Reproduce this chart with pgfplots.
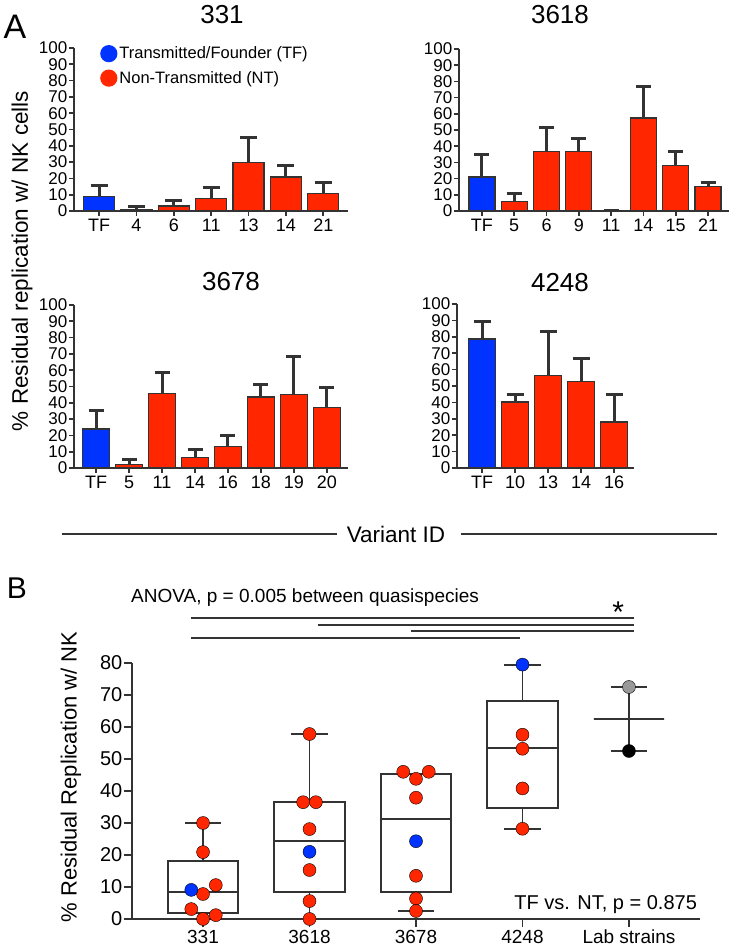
\documentclass[border=0pt]{standalone}
\usepackage{fontspec}
\setmainfont{Liberation Sans}
\usepackage{pgfplots}
\pgfplotsset{compat=1.18}
\usepgfplotslibrary{statistics}
\definecolor{tfblue}{RGB}{0,51,255}
\definecolor{ntred}{RGB}{255,38,0}
\definecolor{dark}{RGB}{51,51,51}
\newcommand\fs[1]{\fontsize{#1pt}{#1pt}\selectfont}
\pgfplotsset{
  panelA/.style={
    scale only axis,
    ymin=0, ymax=100,
    axis lines*=left,
    axis line style={draw=dark, line width=1.7pt},
    tick style={draw=dark, line width=1.7pt},
    major tick length=5pt,
    tick align=outside,
    ytick={0,10,...,100},
    xtick={0,1,...,10},
    /pgf/number format/assume math mode=true,
    yticklabel style={font=\fs{17}, inner sep=1.5pt},
    xticklabel style={font=\fs{18}, inner sep=3pt},
    clip=false,
  },
  bA/.style 2 args={ybar, bar shift=0pt, bar width=#1, draw=dark, line width=1.2pt,
    /pgfplots/error bars/y dir=plus, /pgfplots/error bars/y explicit,
    /pgfplots/error bars/error mark=|,
    /pgfplots/error bars/error bar style={line width=3pt, draw=dark},
    /pgfplots/error bars/error mark options={line width=3pt, draw=dark, mark size=#2}},
  ptR/.style={only marks, mark=*, mark size=6.5pt, mark options={fill=ntred, draw=none}},
  ptB/.style={only marks, mark=*, mark size=6.5pt, mark options={fill=tfblue, draw=none}},
  sig/.style={draw=dark, line width=1.8pt, no marks},
  bx/.style={draw=dark, line width=1.8pt,
    /pgfplots/boxplot/every whisker/.append style={draw=dark, line width=1.8pt},
    /pgfplots/boxplot/every median/.append style={draw=dark, line width=1.8pt},
    /pgfplots/boxplot/every box/.append style={draw=dark, line width=1.8pt}},
}
\begin{document}
\begin{tikzpicture}
\path[use as bounding box] (0,0) rectangle (733pt,950pt);

% ---------- Panel A: 331 ----------
\begin{axis}[panelA, at={(74pt,739pt)}, anchor=south west, width=274pt, height=163pt,
  xmin=-0.67, xmax=6.66, xticklabels={TF,4,6,11,13,14,21},
  legend style={at={(rel axis cs:0.095,1.02)}, anchor=north west, draw=none, fill=none,
    font=\fs{16.5}, row sep=7pt, inner sep=0pt, cells={anchor=west}}]
\addplot[fill=tfblue, bA={31pt}{8.5pt}, legend image code/.code={\fill[tfblue] (0pt,0pt) circle (8pt);}]
  coordinates {(0,9) +- (0,6.8)};
\addplot[fill=ntred, bA={31pt}{8.5pt}, legend image code/.code={\fill[ntred] (0pt,0pt) circle (8pt);}]
  coordinates {(1,1.0) +- (0,1.5) (2,3.1) +- (0,3.1) (3,7.7) +- (0,6.5) (4,29.8) +- (0,15) (5,20.8) +- (0,6.9) (6,10.6) +- (0,6.7)};
\legend{Transmitted/Founder (TF), Non-Transmitted (NT)}
\end{axis}

% ---------- Panel A: 3618 ----------
\begin{axis}[panelA, at={(459pt,739pt)}, anchor=south west, width=270pt, height=162pt,
  xmin=-0.71, xmax=7.65, xticklabels={TF,5,6,9,11,14,15,21}]
\addplot[fill=tfblue, bA={26pt}{7.5pt}] coordinates {(0,21) +- (0,13.8)};
\addplot[fill=ntred, bA={26pt}{7.5pt}]
  coordinates {(1,5.7) +- (0,4.8) (2,36.5) +- (0,15.3) (3,36.5) +- (0,8.4) (4,0.5) +- (0,0.1) (5,57.4) +- (0,19.3) (6,27.9) +- (0,8.8) (7,15.1) +- (0,2.7)};
\end{axis}

% ---------- Panel A: 3678 ----------
\begin{axis}[panelA, at={(74pt,482pt)}, anchor=south west, width=274pt, height=163pt,
  xmin=-0.67, xmax=7.64, xticklabels={TF,5,11,14,16,18,19,20}]
\addplot[fill=tfblue, bA={27pt}{7.5pt}] coordinates {(0,23.9) +- (0,11.4)};
\addplot[fill=ntred, bA={27pt}{7.5pt}]
  coordinates {(1,2) +- (0,3.1) (2,45.5) +- (0,13.1) (3,6.3) +- (0,4.9) (4,13.3) +- (0,6.9) (5,43.5) +- (0,7.7) (6,45.3) +- (0,23.1) (7,37.3) +- (0,11.9)};
\end{axis}

% ---------- Panel A: 4248 ----------
\begin{axis}[panelA, at={(457pt,482pt)}, anchor=south west, width=177pt, height=164pt,
  xmin=-0.76, xmax=4.6, xticklabels={TF,10,13,14,16}]
\addplot[fill=tfblue, bA={27pt}{8.5pt}] coordinates {(0,78.7) +- (0,10.5)};
\addplot[fill=ntred, bA={27pt}{8.5pt}]
  coordinates {(1,40.2) +- (0,4.8) (2,56.4) +- (0,26.6) (3,52.5) +- (0,14.2) (4,28) +- (0,17)};
\end{axis}

% ---------- Panel B ----------
\begin{axis}[scale only axis, at={(132pt,31pt)}, anchor=south west, width=568pt, height=256pt,
  xmin=-0.667, xmax=4.667, ymin=0, ymax=80,
  axis lines*=left, axis line style={draw=dark, line width=1.7pt},
  tick style={draw=dark, line width=1.7pt}, major tick length=8pt, tick align=outside,
  ytick={0,10,...,80}, xtick={0,1,2,3,4}, xticklabels={331,3618,3678,4248,Lab strains},
  /pgf/number format/assume math mode=true,
  yticklabel style={font=\fs{20}, inner sep=1.5pt},
  xticklabel style={font=\fs{19}, inner sep=3pt},
  boxplot/draw direction=y, clip=false]
\addplot[bx, boxplot prepared={lower whisker=0, lower quartile=1.9, median=8.4, upper quartile=18.1, upper whisker=30, draw position=0, box extend=0.66, whisker extend=0.34}] coordinates {};
\addplot[bx, boxplot prepared={lower whisker=0, lower quartile=8.4, median=24.5, upper quartile=36.5, upper whisker=57.8, draw position=1, box extend=0.66, whisker extend=0.34}] coordinates {};
\addplot[bx, boxplot prepared={lower whisker=2.5, lower quartile=8.5, median=31.3, upper quartile=45.2, upper whisker=45.2, draw position=2, box extend=0.66, whisker extend=0.34}] coordinates {};
\addplot[bx, boxplot prepared={lower whisker=28.2, lower quartile=34.8, median=53.4, upper quartile=68.2, upper whisker=79.5, draw position=3, box extend=0.66, whisker extend=0.34}] coordinates {};
\addplot[bx, boxplot prepared={lower whisker=52.5, lower quartile=62.5, median=62.5, upper quartile=62.5, upper whisker=72.5, draw position=4, box extend=0.66, whisker extend=0.34}] coordinates {};
% points
\addplot[ptR] coordinates {(0,30) (0,20.9) (0.12,10.6) (0,7.8) (-0.11,3.1) (0.12,1.2) (0,0)};
\addplot[ptB] coordinates {(-0.11,9.1)};
\addplot[ptR] coordinates {(1,57.8) (0.94,36.5) (1.06,36.5) (1,28.1) (1,15.3) (1,5.6) (1,0)};
\addplot[ptB] coordinates {(1,21)};
\addplot[ptR] coordinates {(1.88,46) (2.12,46) (2,43.8) (2,37.9) (2,13.5) (2,6.4) (2,2.5)};
\addplot[ptB] coordinates {(2,24.3)};
\addplot[ptR] coordinates {(3,57.6) (3,53.2) (3,40.8) (3,28.2)};
\addplot[ptB] coordinates {(3,79.5)};
\addplot[only marks, mark=*, mark size=6.5pt, mark options={fill=gray!80, draw=none}] coordinates {(4,72.5)};
\addplot[only marks, mark=*, mark size=6.5pt, mark options={fill=black, draw=none}] coordinates {(4,52.5)};
% significance lines
\addplot[sig] coordinates {(-0.11,94.1) (4.05,94.1)};
\addplot[sig] coordinates {(1.08,92.0) (4.05,92.0)};
\addplot[sig] coordinates {(1.95,90.0) (4.05,90.0)};
\addplot[sig] coordinates {(-0.11,87.8) (2.98,87.8)};
\node[anchor=west, font=\fs{19}, inner sep=0pt] at (axis cs:-0.676,100.3) {ANOVA, p = 0.005 between quasispecies};
\node[font=\fs{30}, inner sep=0pt] at (axis cs:3.9,95.8) {*};
\node[anchor=east, font=\fs{20}, inner sep=0pt] at (axis cs:4.64,4.4) {TF vs. NT, p = 0.875};
\end{axis}

% ---------- titles and labels ----------
\node[font=\fs{34}, inner sep=0pt] at (15pt,923pt) {A};
\node[font=\fs{30}, inner sep=0pt] at (17pt,362pt) {B};
\node[font=\fs{26}, inner sep=0pt] at (222pt,935pt) {331};
\node[font=\fs{26}, inner sep=0pt] at (560pt,935pt) {3618};
\node[font=\fs{26}, inner sep=0pt] at (231pt,668pt) {3678};
\node[font=\fs{26}, inner sep=0pt] at (560pt,667pt) {4248};
\node[rotate=90, font=\fs{22.5}, inner sep=0pt] at (22pt,689pt) {\% Residual replication w/ NK cells};
\node[rotate=90, font=\fs{22}, inner sep=0pt] at (71pt,173pt) {\% Residual Replication w/ NK};
\node[font=\fs{22.5}, inner sep=0pt] at (396pt,416pt) {Variant ID};
\draw[dark, line width=1.5pt] (62pt,416pt) -- (337pt,416pt);
\draw[dark, line width=1.5pt] (461pt,416pt) -- (717pt,416pt);
\end{tikzpicture}
\end{document}
